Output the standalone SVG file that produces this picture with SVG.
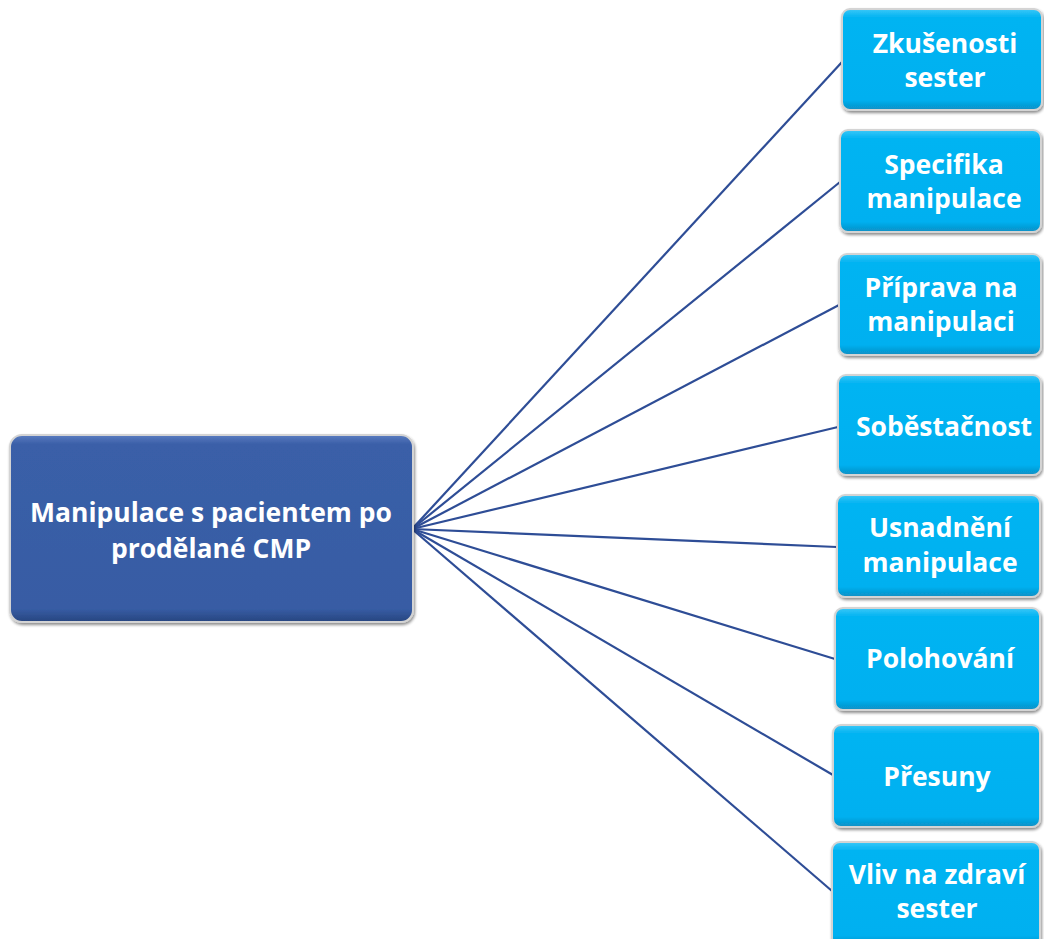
<svg xmlns="http://www.w3.org/2000/svg" width="1044" height="939" viewBox="0 0 1044 939">
<defs>
<linearGradient id="cyanV" x1="0" y1="0" x2="0" y2="1">
<stop offset="0" stop-color="#3cc8f8"/>
<stop offset="0.08" stop-color="#06b4f2"/>
<stop offset="0.9" stop-color="#00b0f0"/>
<stop offset="1" stop-color="#0a8fc4"/>
</linearGradient>
<linearGradient id="blueV" x1="0" y1="0" x2="0" y2="1">
<stop offset="0" stop-color="#5a7cc0"/>
<stop offset="0.05" stop-color="#3a5fa8"/>
<stop offset="0.93" stop-color="#375ca4"/>
<stop offset="1" stop-color="#27457f"/>
</linearGradient>
<filter id="sh" x="-10%" y="-10%" width="120%" height="130%">
<feGaussianBlur in="SourceAlpha" stdDeviation="1.5"/>
<feOffset dx="1" dy="2" result="b"/>
<feComponentTransfer><feFuncA type="linear" slope="0.45"/></feComponentTransfer>
<feMerge><feMergeNode/><feMergeNode in="SourceGraphic"/></feMerge>
</filter>
</defs>
<style>
.cn{stroke:#2e4d96;stroke-width:2.2;fill:none}
.bx{fill:url(#cyanV);stroke:#d4d4d4;stroke-width:2;filter:url(#sh)}
.mn{fill:url(#blueV);stroke:#d4d4d4;stroke-width:2;filter:url(#sh)}
.t{font-family:"Open Sans","Liberation Sans",sans-serif;font-weight:bold;font-size:26.5px;fill:#ffffff;text-anchor:middle}
</style>
<g id="connectors">
<line class="cn" x1="412" y1="529" x2="842" y2="62"/>
<line class="cn" x1="412" y1="529" x2="840" y2="182"/>
<line class="cn" x1="412" y1="529" x2="839" y2="305"/>
<line class="cn" x1="412" y1="529" x2="838" y2="427"/>
<line class="cn" x1="412" y1="529" x2="837" y2="547"/>
<line class="cn" x1="412" y1="529" x2="835" y2="659"/>
<line class="cn" x1="412" y1="529" x2="833" y2="775"/>
<line class="cn" x1="412" y1="529" x2="832" y2="891"/>
</g>
<g id="main">
<rect class="mn" x="10" y="435" width="403" height="187" rx="12"/>
<text class="t" x="211" y="522">Manipulace s pacientem po</text>
<text class="t" x="211" y="558">prodělané CMP</text>
</g>
<g id="n1">
<rect class="bx" x="842" y="9" width="200" height="101" rx="8"/>
<text class="t" x="945" y="53">Zkušenosti</text>
<text class="t" x="945" y="87">sester</text>
</g>
<g id="n2">
<rect class="bx" x="840" y="130" width="201" height="102" rx="8"/>
<text class="t" x="944" y="174">Specifika</text>
<text class="t" x="944" y="208">manipulace</text>
</g>
<g id="n3">
<rect class="bx" x="839" y="254" width="202" height="101" rx="8"/>
<text class="t" x="941" y="297">Příprava na</text>
<text class="t" x="941" y="331">manipulaci</text>
</g>
<g id="n4">
<rect class="bx" x="838" y="375" width="203" height="100" rx="8"/>
<text class="t" x="944" y="436">Soběstačnost</text>
</g>
<g id="n5">
<rect class="bx" x="837" y="495" width="203" height="102" rx="8"/>
<text class="t" x="940" y="537">Usnadnění</text>
<text class="t" x="940" y="572">manipulace</text>
</g>
<g id="n6">
<rect class="bx" x="835" y="608" width="205" height="102" rx="8"/>
<text class="t" x="940" y="668">Polohování</text>
</g>
<g id="n7">
<rect class="bx" x="833" y="725" width="207" height="102" rx="8"/>
<text class="t" x="937" y="786">Přesuny</text>
</g>
<g id="n8">
<rect class="bx" x="832" y="842" width="208" height="104" rx="8"/>
<text class="t" x="937" y="884">Vliv na zdraví</text>
<text class="t" x="937" y="918">sester</text>
</g>
</svg>
